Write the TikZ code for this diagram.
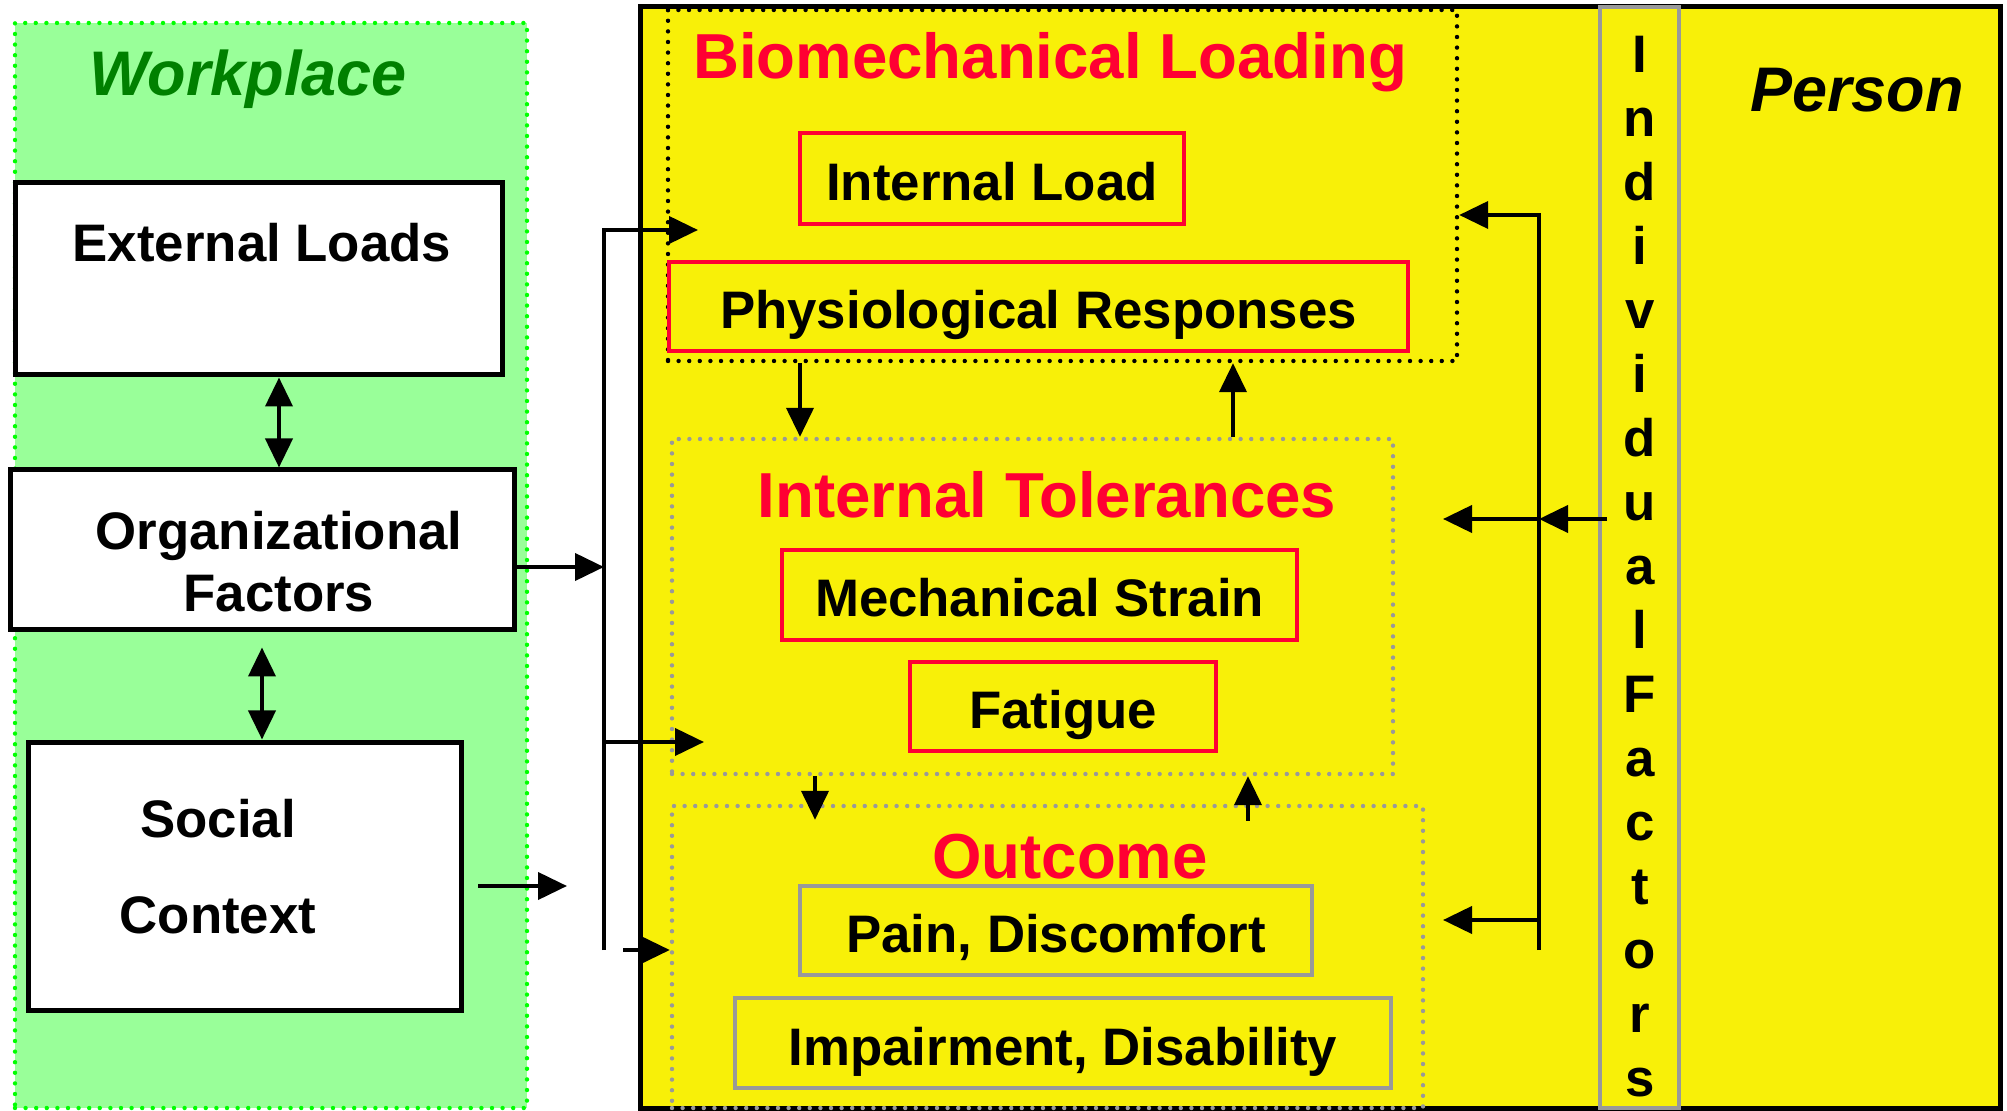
\documentclass[tikz,border=0pt]{standalone}
\usepackage{fontspec}
\setmainfont{Liberation Sans}
\usetikzlibrary{arrows.meta,positioning,calc}

\definecolor{panelgreen}{RGB}{153,255,153}
\definecolor{dotgreen}{RGB}{0,255,0}
\definecolor{darkgreen}{RGB}{0,128,0}
\definecolor{persyellow}{RGB}{248,240,8}
\definecolor{loadred}{RGB}{255,0,51}
\definecolor{framegray}{RGB}{153,153,153}

\begin{document}
\begin{tikzpicture}[x=0.5pt,y=-0.5pt,>={Triangle[length=14.5pt,width=13.5pt]},
	wbox/.style={draw,fill=white,line width=2.5pt,inner sep=0pt},
	txt/.style={inner sep=0pt,align=center,font=\fontsize{26.4}{31}\selectfont\bfseries},
	rbox/.style={txt,draw=loadred,line width=2pt,text height=22pt,text depth=0pt},
	gbox/.style={rbox,draw=framegray},
	dotframe/.style={line width=2.2pt,line cap=round,dash pattern=on 0pt off 5.3pt,inner sep=0pt},
	heading/.style={inner sep=0pt,anchor=base,text=loadred,font=\fontsize{31.8}{38}\selectfont\bfseries},
	wire/.style={line width=2pt},
]
	\useasboundingbox (0,0) rectangle (2007,1111);

	% workplace side
	\node[dotframe,draw=dotgreen,fill=panelgreen,minimum width=256pt,minimum height=542.5pt] (work) at (271,565.5) {};
	\node[inner sep=0pt,anchor=base,text=darkgreen,font=\fontsize{31.5}{38}\selectfont\bfseries\itshape] (worktitle) at (248,96) {Workplace};

	% person side
	\node[draw,fill=persyellow,line width=2.5pt,minimum width=680pt,minimum height=550.5pt] (pers) at (1320,557.5) {};
	\node[draw=framegray,line width=2pt,minimum width=39.5pt,minimum height=550.5pt] (col) at (1639.5,557.5) {};
	\node[inner sep=0pt,anchor=base,font=\fontsize{31.5}{38}\selectfont\bfseries\itshape] (perstitle) at (1857,112) {Person};
	\node[txt,font=\fontsize{26.4}{32}\selectfont\bfseries] (indiv) at (1640,567)
		{I\\n\\d\\i\\v\\i\\d\\u\\a\\l\\F\\a\\c\\t\\o\\r\\s};

	% the three stages
	\node[dotframe,draw=black,minimum width=394.5pt,minimum height=175.5pt] (bio) at (1062.5,185.5) {};
	\node[dotframe,draw=framegray,minimum width=360.5pt,minimum height=167.5pt] (tol) at (1032.5,606.5) {};
	\node[dotframe,draw=framegray,minimum width=375.5pt,minimum height=151pt] (out) at (1047.5,957) {};

	\node[heading] (biotitle) at (1050,79) {Biomechanical Loading};
	\node[heading] (toltitle) at (1047,518) {Internal Tolerances};
	\node[heading] (outtitle) at (1070,878) {Outcome};

	\node[rbox,minimum width=192pt,minimum height=45.5pt] (iload) at (992,178.5) {Internal Load};
	\node[rbox,minimum width=369.5pt,minimum height=44.5pt] (phys) at (1038.5,306.5) {Physiological Responses};
	\node[rbox,minimum width=257.5pt,minimum height=45pt] (mech) at (1039.5,595) {Mechanical Strain};
	\node[rbox,minimum width=153pt,minimum height=44.5pt] (fat) at (1063,706.5) {Fatigue};
	\node[gbox,minimum width=256pt,minimum height=44.5pt] (pain) at (1056,930.5) {Pain, Discomfort};
	\node[gbox,minimum width=328pt,minimum height=45pt] (imp) at (1063,1043) {Impairment, Disability};

	% workplace factors
	\node[wbox,minimum width=243.5pt,minimum height=96pt] (ext) at (258.5,279) {};
	\node[wbox,minimum width=252pt,minimum height=80pt] (org) at (262,550) {};
	\node[wbox,minimum width=216.5pt,minimum height=134pt] (soc) at (244.5,876) {};
	\node[txt] (exttxt) at (262,243) {External Loads};
	\node[txt] (orgtxt) at (279,562) {Organizational\\Factors};
	\node[txt,font=\fontsize{26.4}{48}\selectfont\bfseries] (soctxt) at (218,867) {Social\\Context};

	\path[wire,<->]
		([xshift=10.25pt]ext.south) edge ([xshift=10.25pt]ext.south |- org.north)
		([yshift=-7.5pt]org.south) edge (org.south |- soc.north)
	;

	% left bus into the stages
	\coordinate (lbusT) at (604,230);
	\coordinate (lbusM) at (604,742);
	\coordinate (lbusB) at (604,950);
	\coordinate (ltipA) at (698,230);
	\coordinate (ltipB) at (704,742);
	\coordinate (socout) at (478,886);
	\coordinate (soctip) at (567,886);
	\coordinate (lstub) at (623,950);

	\draw[wire,->] (lbusB) -- (lbusT) -- (ltipA);
	\draw[wire,->] (lbusM) -- (ltipB);
	\draw[wire,->] ([yshift=-8.5pt]org.east) -- ([yshift=-8.5pt]org.east -| lbusT);
	\draw[wire,->] (socout) -- (soctip);
	\draw[wire,->] (lstub) -- (lstub -| out.west);

	% right bus from the individual factors
	\coordinate (rbusT) at (1539,215);
	\coordinate (rbusB) at (1539,950);
	\coordinate (indout) at (1607,519);
	\coordinate (rtipA) at (1443,519);
	\coordinate (rbusO) at (1539,920);
	\coordinate (rtipB) at (1443,920);

	\draw[wire,->] (rbusB) -- (rbusT) -- (rbusT -| bio.east);
	\draw[wire,->] (indout) -- (indout -| rbusT);
	\draw[wire,->] (indout -| rbusT) -- (rtipA);
	\draw[wire,->] (rbusO) -- (rtipB);

	% between the stages
	\coordinate (xa) at (800,0);
	\coordinate (xb) at (1233,0);
	\coordinate (xc) at (815,0);
	\coordinate (xd) at (1248,0);
	\draw[wire,->] (bio.south -| xa) -- (tol.north -| xa);
	\draw[wire,->] (tol.north -| xb) -- (bio.south -| xb);
	\draw[wire,->] (tol.south -| xc) -- ($(out.north -| xc)+(0,16)$);
	\draw[wire,->] ($(out.north -| xd)+(0,17)$) -- (tol.south -| xd);
\end{tikzpicture}
\end{document}
